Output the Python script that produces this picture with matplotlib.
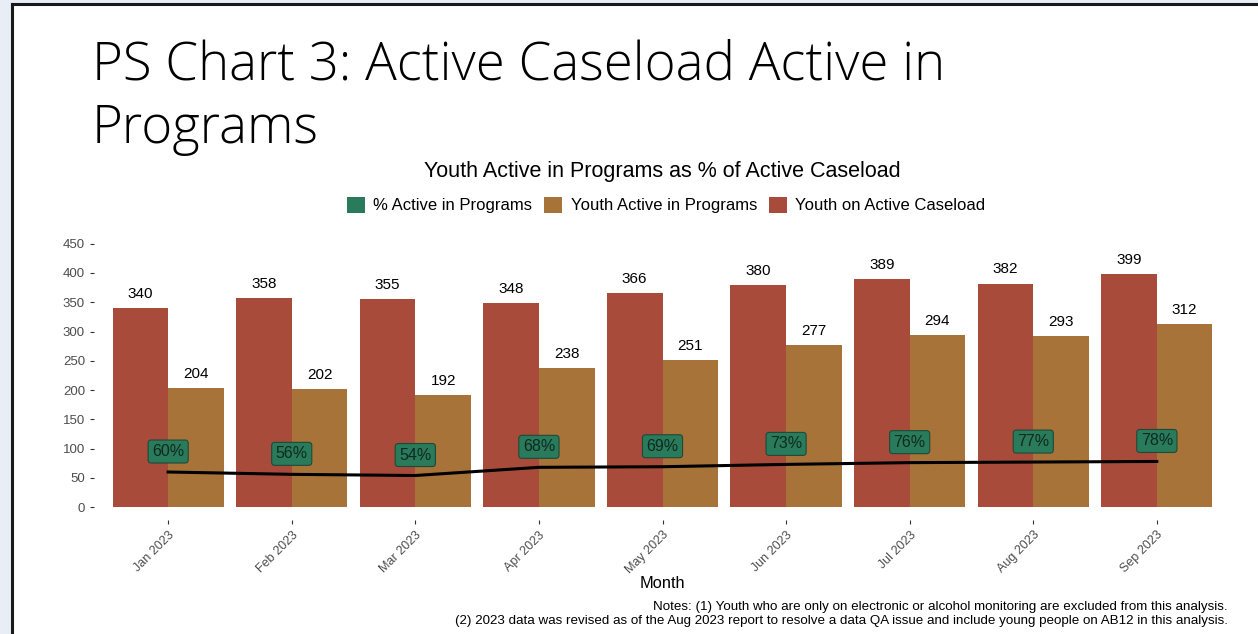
import matplotlib
matplotlib.use("Agg")
import matplotlib.pyplot as plt
from matplotlib.patches import Rectangle, Patch
from matplotlib.lines import Line2D

months = ["Jan 2023", "Feb 2023", "Mar 2023", "Apr 2023", "May 2023",
          "Jun 2023", "Jul 2023", "Aug 2023", "Sep 2023"]
caseload = [340, 358, 355, 348, 366, 380, 389, 382, 399]
active = [204, 202, 192, 238, 251, 277, 294, 293, 312]
pct = [60, 56, 54, 68, 69, 73, 76, 77, 78]
yticks = [0, 50, 100, 150, 200, 250, 300, 350, 400, 450]

RED = "#A94B3A"
ORANGE = "#A87339"
GREEN = "#2A7A5C"

W, H = 1258, 634
fig = plt.figure(figsize=(W / 100, H / 100), dpi=100)
fig.patch.set_facecolor("#E9EEF6")

# slide frame
fig.add_artist(Rectangle((12 / W, 0), 1 - 12 / W, 1 - 4 / H, transform=fig.transFigure,
                         facecolor="white", edgecolor="none", zorder=0))
fig.add_artist(Line2D([12 / W, 12 / W], [0, 1 - 4 / H], transform=fig.transFigure,
                      color="#1a1a1a", lw=2.2))
fig.add_artist(Line2D([12 / W, 1], [1 - 4 / H, 1 - 4 / H], transform=fig.transFigure,
                      color="#1a1a1a", lw=2.2))

# slide title
fig.text(92 / W, 1 - 66 / H, "PS Chart 3: Active Caseload Active in", fontsize=38,
         family="Open Sans", fontweight="light", va="center", ha="left", color="black")
fig.text(92 / W, 1 - 129 / H, "Programs", fontsize=38,
         family="Open Sans", fontweight="light", va="center", ha="left", color="black")

ax_l, ax_r, ax_t, ax_b = 94, 1231, 232, 520
ax = fig.add_axes([ax_l / W, 1 - ax_b / H, (ax_r - ax_l) / W, (ax_b - ax_t) / H])
ax.set_facecolor("white")
x = list(range(len(months)))
bw = 0.45
ax.bar([i - bw / 2 for i in x], caseload, width=bw, color=RED, zorder=2)
ax.bar([i + bw / 2 for i in x], active, width=bw, color=ORANGE, zorder=2)

for i in x:
    ax.text(i - bw / 2, caseload[i] + 12, str(caseload[i]), ha="center", va="bottom",
            fontsize=11, family="Liberation Sans", color="black")
    ax.text(i + bw / 2, active[i] + 12, str(active[i]), ha="center", va="bottom",
            fontsize=11, family="Liberation Sans", color="black")

ax.plot(x, pct, color="black", lw=2.2, zorder=3)
for i in x:
    ax.text(i, pct[i] + 35, f"{pct[i]}%", ha="center", va="center", fontsize=11.5,
            family="Liberation Sans", color="#0f2a1f", zorder=4,
            bbox=dict(boxstyle="round,pad=0.25,rounding_size=0.2", facecolor=GREEN,
                      edgecolor="#1d4a38", lw=0.8))

ax.set_xlim(-0.6, len(months) - 0.4)
ax.set_ylim(-22, 470)
ax.set_yticks(yticks)
ax.set_yticklabels([str(v) for v in yticks], fontsize=9.5, family="Liberation Sans", color="#4d4d4d")
ax.set_xticks(x)
ax.set_xticklabels(months, rotation=45, ha="right", rotation_mode="anchor",
                   fontsize=9, family="Liberation Sans", color="#4d4d4d")
ax.tick_params(axis="both", length=3, color="#333333", width=0.8)
for s in ax.spines.values():
    s.set_visible(False)
ax.set_xlabel("Month", fontsize=11.8, family="Liberation Sans", labelpad=0)

fig.text(662 / W, 1 - 171 / H, "Youth Active in Programs as % of Active Caseload",
         ha="center", va="center", fontsize=15.5, family="Liberation Sans")

handles = [Patch(facecolor=GREEN, label="% Active in Programs"),
           Patch(facecolor=ORANGE, label="Youth Active in Programs"),
           Patch(facecolor=RED, label="Youth on Active Caseload")]
fig.legend(handles=handles, loc="center", bbox_to_anchor=(666 / W, 1 - 205 / H), ncol=3,
           frameon=False, prop={"family": "Liberation Sans", "size": 12},
           handlelength=1.1, handleheight=1.1, handletextpad=0.5, columnspacing=0.7)

fig.text(1228 / W, 1 - 607 / H,
         "Notes: (1) Youth who are only on electronic or alcohol monitoring are excluded from this analysis.",
         ha="right", va="center", fontsize=9.6, family="Liberation Sans")
fig.text(1228 / W, 1 - 621 / H,
         "(2) 2023 data was revised as of the Aug 2023 report to resolve a data QA issue and include young people on AB12 in this analysis.",
         ha="right", va="center", fontsize=9.6, family="Liberation Sans")

fig.savefig("out.png", dpi=100, facecolor=fig.get_facecolor())
